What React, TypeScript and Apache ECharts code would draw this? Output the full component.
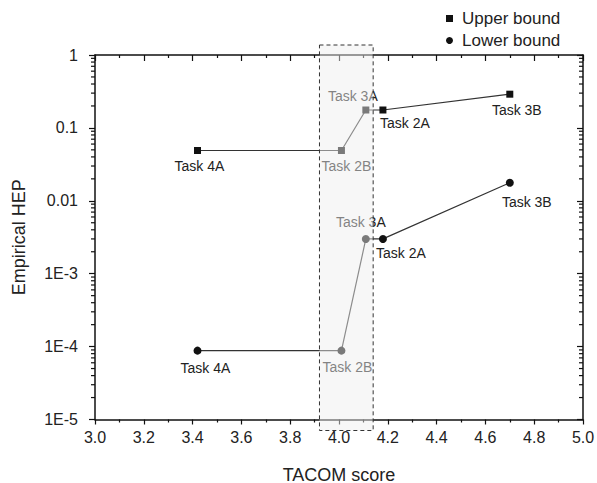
import React, { useEffect, useRef } from "react";
import * as echarts from "echarts";

// ---- data ----
const tasks = ["Task 4A", "Task 2B", "Task 3A", "Task 2A", "Task 3B"];
const tacomScore = [3.42, 4.01, 4.11, 4.18, 4.7];
const upperBound = [0.049, 0.049, 0.176, 0.176, 0.29];
const lowerBound = [8.8e-5, 8.8e-5, 0.003, 0.003, 0.0177];
const highlightRange = [3.92, 4.14];
const xTicks = [3.0, 5.0];
const yTickLabels = ["1E-5", "1E-4", "1E-3", "0.01", "0.1", "1"];
const yDecades = [-5, -4, -3, -2, -1];
const minorMultipliers = [2, 3, 4, 5, 6, 7, 8, 9];

// ---- label placement (styling) ----
const upperLabelPos = ["bottom", "bottom", "top", "bottom", "bottom"];
const upperLabelOffset = [[2, 0], [5, 0], [-13, 1], [22, -2.5], [7, 0.5]];
const lowerLabelPos = ["bottom", "bottom", "top", "bottom", "bottom"];
const lowerLabelOffset = [[8, 1.5], [6, 0], [-5, -1], [18, -2], [17, 3]];

const FONT = "Liberation Sans, Arial, Helvetica, sans-serif";

export default function App() {
  const ref = useRef<HTMLDivElement>(null);

  useEffect(() => {
    document.body.style.margin = "0";
    if (!ref.current) return;
    const chart = echarts.init(ref.current, undefined, { renderer: "svg" });

    const minorValues: number[] = [];
    yDecades.forEach((e) => minorMultipliers.forEach((m) => minorValues.push(m * Math.pow(10, e))));

    const buildData = (vals: number[], pos: string[], off: number[][]) =>
      tasks.map((t, i) => ({
        name: t,
        value: [tacomScore[i], vals[i]],
        label: { position: pos[i], offset: off[i] },
      }));

    const labelStyle = {
      show: true,
      formatter: (p: any) => p.name,
      fontSize: 14,
      color: "#222",
      fontFamily: FONT,
      distance: 5,
    };

    const yLabel = (v: number) => {
      const idx = Math.round(Math.log10(v)) + 5;
      return yTickLabels[idx] ?? "";
    };

    chart.setOption({
      animation: false,
      textStyle: { fontFamily: FONT },
      grid: {
        left: 95,
        right: 14,
        top: 55,
        bottom: 63.5,
        containLabel: false,
        outerBoundsMode: "none",
      },
      legend: {
        orient: "vertical",
        left: 441,
        top: 5,
        itemWidth: 7,
        itemHeight: 7,
        itemGap: 5,
        textStyle: { fontSize: 17, color: "#222", padding: [0, 0, 0, 4] },
        data: [
          { name: "Upper bound", icon: "rect" },
          { name: "Lower bound", icon: "circle" },
        ],
      },
      xAxis: [
        {
          type: "value",
          min: xTicks[0],
          max: xTicks[1],
          interval: 0.2,
          position: "bottom",
          name: "TACOM score",
          nameLocation: "middle",
          nameGap: 46,
          nameTextStyle: { fontSize: 18, color: "#222" },
          axisLine: { show: true, onZero: false, lineStyle: { color: "#111", width: 1.5 } },
          axisTick: { show: true, inside: false, length: 5, lineStyle: { color: "#111", width: 1.2 } },
          minorTick: { show: true, splitNumber: 2, length: 3, lineStyle: { color: "#111", width: 1.2 } },
          axisLabel: { fontSize: 16, color: "#222", margin: 10, formatter: (v: number) => v.toFixed(1) },
          splitLine: { show: false },
        },
        {
          type: "value",
          min: xTicks[0],
          max: xTicks[1],
          interval: 0.2,
          position: "top",
          axisLine: { show: true, onZero: false, lineStyle: { color: "#111", width: 1.5 } },
          axisTick: { show: true, inside: true, length: 6, lineStyle: { color: "#111", width: 1.2 } },
          minorTick: { show: true, splitNumber: 2, length: 3, lineStyle: { color: "#111", width: 1.2 } },
          axisLabel: { show: false },
          splitLine: { show: false },
        },
      ],
      yAxis: [
        {
          type: "log",
          logBase: 10,
          min: 1e-5,
          max: 1,
          splitNumber: 5,
          position: "left",
          name: "Empirical HEP",
          nameLocation: "middle",
          nameGap: 67,
          nameTextStyle: { fontSize: 18, color: "#222" },
          axisLine: { show: true, onZero: false, lineStyle: { color: "#111", width: 1.5 } },
          axisTick: { show: true, inside: false, length: 6, lineStyle: { color: "#111", width: 1.2 } },
          axisLabel: { fontSize: 16, color: "#222", margin: 17, formatter: yLabel },
          splitLine: { show: false },
        },
        {
          type: "log",
          logBase: 10,
          min: 1e-5,
          max: 1,
          splitNumber: 5,
          position: "right",
          axisLine: { show: true, onZero: false, lineStyle: { color: "#111", width: 1.5 } },
          axisTick: { show: true, inside: true, length: 6, lineStyle: { color: "#111", width: 1.2 } },
          axisLabel: { show: false },
          splitLine: { show: false },
        },
      ],
      series: [
        {
          name: "Upper bound",
          type: "line",
          xAxisIndex: 0,
          yAxisIndex: 0,
          symbol: "rect",
          symbolSize: 7,
          itemStyle: { color: "#111" },
          lineStyle: { color: "#333", width: 1.2 },
          label: labelStyle,
          z: 3,
          data: buildData(upperBound, upperLabelPos, upperLabelOffset),
        },
        {
          name: "Lower bound",
          type: "line",
          xAxisIndex: 0,
          yAxisIndex: 0,
          symbol: "circle",
          symbolSize: 8,
          itemStyle: { color: "#111" },
          lineStyle: { color: "#333", width: 1.2 },
          label: labelStyle,
          z: 3,
          data: buildData(lowerBound, lowerLabelPos, lowerLabelOffset),
        },
        {
          name: "minorTicks",
          type: "custom",
          xAxisIndex: 0,
          yAxisIndex: 0,
          clip: false,
          silent: true,
          z: 4,
          encode: { x: 0, y: 1 },
          data: minorValues.map((v) => [xTicks[0], v]),
          renderItem: (params: any, api: any) => {
            const v = api.value(1);
            const l = api.coord([xTicks[0], v]);
            const r = api.coord([xTicks[1], v]);
            const st = { stroke: "#111", lineWidth: 1.2 };
            return {
              type: "group",
              children: [
                { type: "line", shape: { x1: l[0] - 4, y1: l[1], x2: l[0], y2: l[1] }, style: st },
                { type: "line", shape: { x1: r[0] - 4, y1: r[1], x2: r[0], y2: r[1] }, style: st },
              ],
            };
          },
        },
        {
          name: "highlight",
          type: "custom",
          xAxisIndex: 0,
          yAxisIndex: 0,
          clip: false,
          silent: true,
          z: 20,
          encode: { x: [0, 2], y: [1, 3] },
          data: [[highlightRange[0], 1, highlightRange[1], 1e-5]],
          renderItem: (params: any, api: any) => {
            const p0 = api.coord([api.value(0), api.value(1)]);
            const p1 = api.coord([api.value(2), api.value(3)]);
            const top = p0[1] - 10;
            const bottom = p1[1] + 11;
            return {
              type: "rect",
              shape: { x: p0[0], y: top, width: p1[0] - p0[0], height: bottom - top },
              style: {
                fill: "rgba(238,238,238,0.48)",
                stroke: "#333",
                lineWidth: 1,
                lineDash: [4, 3],
              },
            };
          },
        },
      ],
    });

    return () => chart.dispose();
  }, []);

  return <div ref={ref} style={{ width: 597, height: 483 }} />;
}
